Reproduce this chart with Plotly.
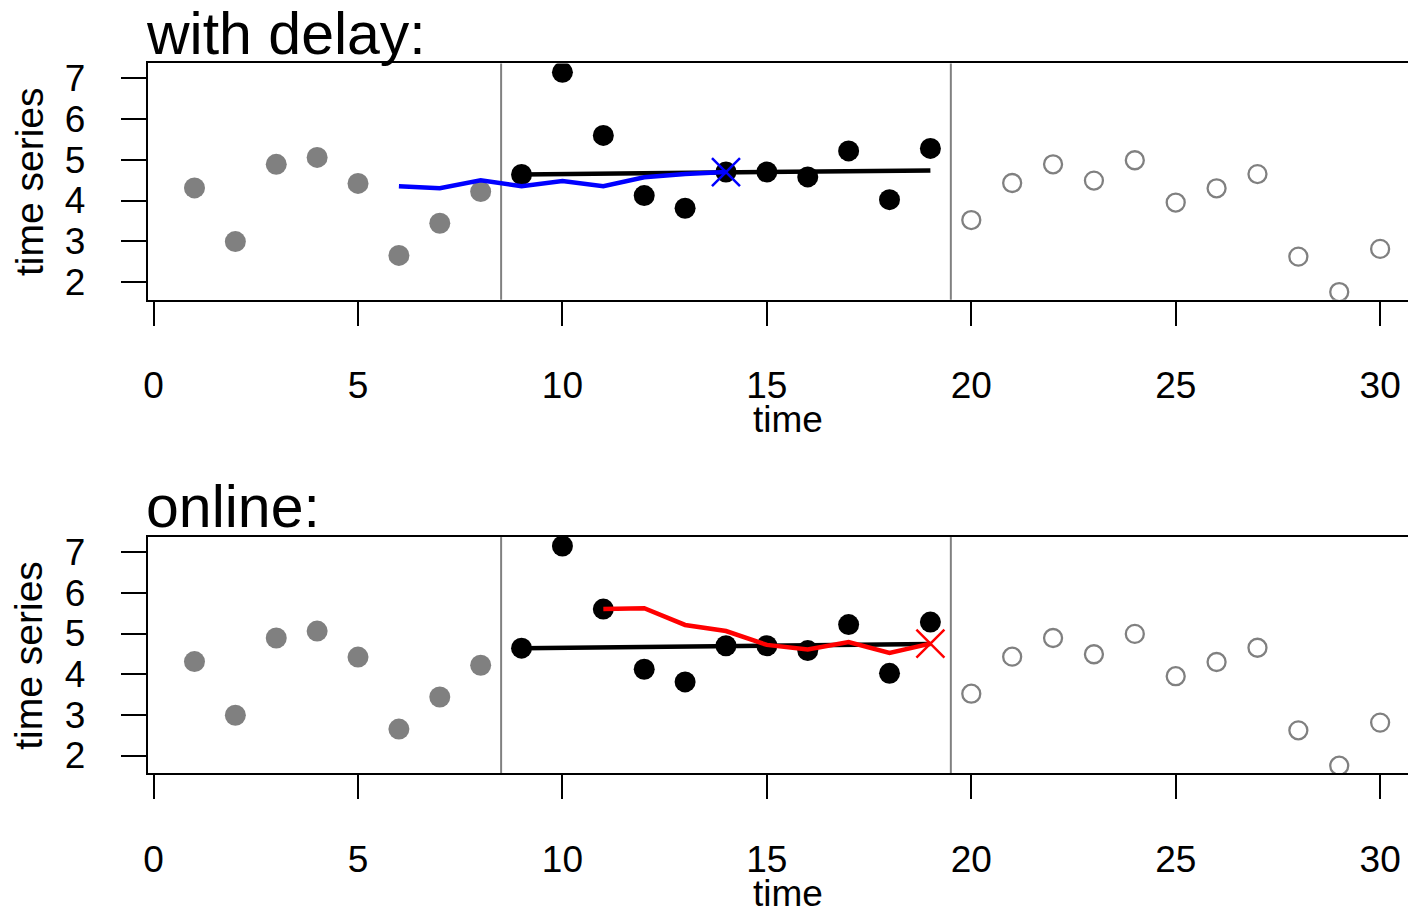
import plotly.graph_objects as go

# ---- data ----
t_past = [1, 2, 3, 4, 5, 6, 7, 8]
y_past = [4.31, 2.99, 4.89, 5.06, 4.42, 2.65, 3.44, 4.22]
t_win = [9, 10, 11, 12, 13, 14, 15, 16, 17, 18, 19]
y_win = [4.64, 7.15, 5.60, 4.12, 3.81, 4.70, 4.70, 4.58, 5.22, 4.02, 5.28]
t_future = [20, 21, 22, 23, 24, 25, 26, 27, 28, 29, 30]
y_future = [3.52, 4.43, 4.89, 4.49, 4.99, 3.95, 4.30, 4.65, 2.62, 1.75, 2.81]
fit_t = [9, 19]
fit_y = [4.64, 4.74]
delay_t = [6, 7, 8, 9, 10, 11, 12, 13, 14]
delay_y = [4.35, 4.30, 4.50, 4.35, 4.48, 4.35, 4.57, 4.65, 4.70]
online_t = [11, 12, 13, 14, 15, 16, 17, 18, 19]
online_y = [5.60, 5.62, 5.21, 5.06, 4.72, 4.61, 4.79, 4.52, 4.75]
x_ticks = [0, 5, 10, 15, 20, 25, 30]
y_ticks = [2, 3, 4, 5, 6, 7]
titles = ["with delay:", "online:"]
boundaries = [8.5, 19.5]

W, H = 1416, 912
OFF = 11  # page offset of the figure inside the browser window
FONT = "Liberation Sans, Arial, sans-serif"
GRAY = "#808080"


def fig_y(p):
    # small empirical correction for vertical placement
    return (p - 2) / 0.994 - OFF + 0.5


def px_x(p):
    return (p - OFF) / W


def px_y(p):
    return 1 - fig_y(p) / H


fig = go.Figure()

panels = [
    dict(xa="x", ya="y", top=63, bottom=300, line_t=delay_t, line_y=delay_y, col="blue"),
    dict(xa="x2", ya="y2", top=538, bottom=775, line_t=online_t, line_y=online_y, col="red"),
]

for i, p in enumerate(panels):
    xa, ya = p["xa"], p["ya"]
    fig.add_trace(go.Scatter(x=t_past, y=y_past, mode="markers", xaxis=xa, yaxis=ya,
                             marker=dict(size=21, color=GRAY, line=dict(width=0))))
    fig.add_trace(go.Scatter(x=t_future, y=y_future, mode="markers", xaxis=xa, yaxis=ya,
                             marker=dict(size=18, symbol="circle-open", color=GRAY,
                                         line=dict(width=2.3, color=GRAY))))
    fig.add_trace(go.Scatter(x=fit_t, y=fit_y, mode="lines", xaxis=xa, yaxis=ya,
                             line=dict(color="black", width=4.5)))
    fig.add_trace(go.Scatter(x=t_win, y=y_win, mode="markers", xaxis=xa, yaxis=ya,
                             marker=dict(size=21, color="black", line=dict(width=0))))
    fig.add_trace(go.Scatter(x=p["line_t"], y=p["line_y"], mode="lines", xaxis=xa, yaxis=ya,
                             line=dict(color=p["col"], width=4.5)))
    fig.add_trace(go.Scatter(x=[p["line_t"][-1]], y=[p["line_y"][-1]], mode="markers",
                             xaxis=xa, yaxis=ya,
                             marker=dict(size=28, symbol="x-thin-open", color=p["col"],
                                         line=dict(width=2.5, color=p["col"]))))
    for b in boundaries:
        fig.add_shape(type="line", xref=xa, yref=ya + " domain", x0=b, x1=b, y0=0, y1=1,
                      line=dict(color=GRAY, width=2), layer="below")

    fig.add_annotation(text=titles[i], xref="paper", yref="paper", x=px_x(143),
                       y=px_y(p["top"] - 30), xanchor="left", yanchor="middle",
                       showarrow=False, font=dict(family=FONT, size=59, color="black"))
    fig.add_annotation(text="time", xref="paper", yref="paper", x=px_x(789),
                       y=px_y(p["bottom"] + 120), xanchor="center", yanchor="middle",
                       showarrow=False, font=dict(family=FONT, size=37, color="black"))
    fig.add_annotation(text="time series", xref="paper", yref="paper", x=px_x(28),
                       y=px_y(p["top"] + 118), xanchor="center", yanchor="middle",
                       textangle=-90, showarrow=False,
                       font=dict(family=FONT, size=39, color="black"))

x0_px = 153 - OFF          # figure pixel of t = 0
unit = 41.0                # pixels per time unit
left_px = 147 - OFF
xcommon = dict(range=[(left_px - x0_px) / unit, (W - x0_px) / unit],
               domain=[left_px / W, 1], tickvals=x_ticks,
               ticks="outside", ticklen=24, tickwidth=2, tickcolor="black",
               showline=True, linecolor="black", linewidth=2, mirror=True,
               showgrid=False, zeroline=False, ticklabelstandoff=28,
               tickfont=dict(family=FONT, size=37, color="black"))
ycommon = dict(range=[1.56, 7.37], tickvals=y_ticks,
               ticks="outside", ticklen=25, tickwidth=2, tickcolor="black",
               showline=True, linecolor="black", linewidth=2, mirror=False,
               showgrid=False, zeroline=False, ticklabelstandoff=28,
               tickfont=dict(family=FONT, size=37, color="black"))

fig.update_layout(
    width=W, height=H, margin=dict(l=0, r=0, t=0, b=0),
    paper_bgcolor="white", plot_bgcolor="white", showlegend=False,
    xaxis=dict(xcommon, anchor="y"),
    yaxis=dict(ycommon, anchor="x", domain=[px_y(300), px_y(63)]),
    xaxis2=dict(xcommon, anchor="y2"),
    yaxis2=dict(ycommon, anchor="x2", domain=[px_y(775), px_y(538)]),
)

fig.write_html("out.html")
